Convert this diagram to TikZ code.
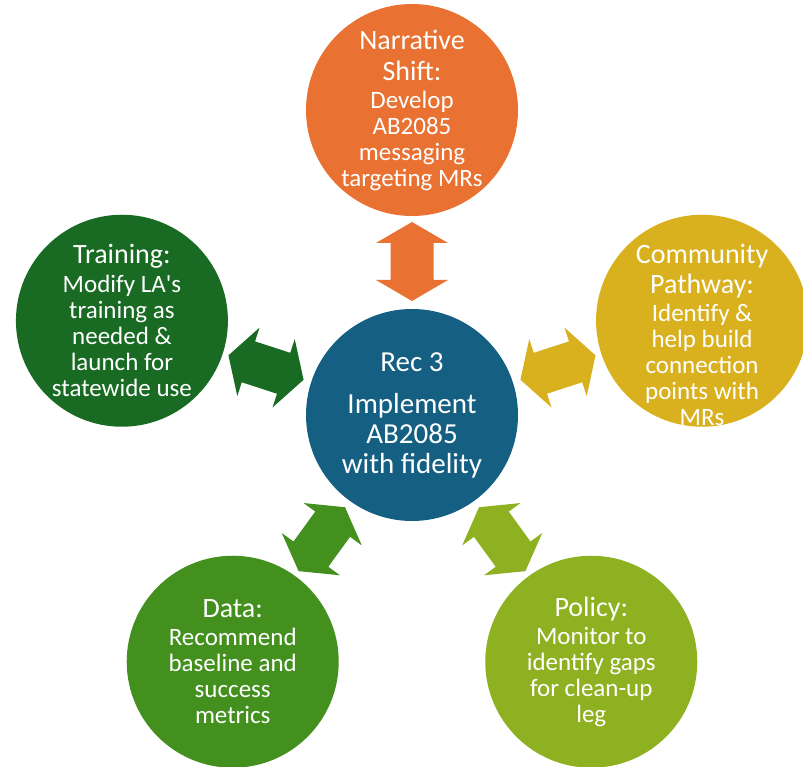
\documentclass[tikz,border=0pt]{standalone}
\usepackage{fontspec}
\setmainfont{Carlito}
\usetikzlibrary{calc}
\definecolor{cBlue}{HTML}{156082}
\definecolor{cOrange}{HTML}{E97132}
\definecolor{cDkGreen}{HTML}{196B24}
\definecolor{cGold}{HTML}{D9B11F}
\definecolor{cGreen}{HTML}{43901F}
\definecolor{cLime}{HTML}{8EB122}
\newcommand{\Tt}{\fontsize{28}{31}\selectfont}
\begin{document}
\begin{tikzpicture}[x=1pt,y=1pt,
  disc/.style={circle, minimum size=212pt, inner sep=0pt, fill=#1},
  lbl/.style={text=white, align=center, inner sep=0pt, font=\fontsize{25}{26}\selectfont},
  clbl/.style={text=white, align=center, inner sep=0pt, font=\fontsize{29}{30}\selectfont},
  dblarrow/.pic={
    \fill[#1] (-39.5,0) -- (-18.5,36) -- (-18.5,21.5) -- (18.5,21.5) -- (18.5,36) -- (39.5,0)
      -- (18.5,-36) -- (18.5,-21.5) -- (-18.5,-21.5) -- (-18.5,-36) -- cycle;
  }
]
\useasboundingbox (0,0) rectangle (803,767);
\coordinate (o) at (412,352);
\node[disc=cBlue] (c) at (o) {};
\node[disc=cOrange] (n) at ($(o)+(90:305)$) {};
\node[disc=cDkGreen] (w) at ($(o)+(162:305)$) {};
\node[disc=cGreen] (sw) at ($(o)+(234:305)$) {};
\node[disc=cLime] (se) at ($(o)+(306:305)$) {};
\node[disc=cGold] (e) at ($(o)+(18:305)$) {};

% arrows
\pic[rotate=90] at ($(o)+(90:153.5)$) {dblarrow=cOrange};
\pic[rotate=162] at ($(o)+(162:153.5)$) {dblarrow=cDkGreen};
\pic[rotate=234] at ($(o)+(234:153.5)$) {dblarrow=cGreen};
\pic[rotate=306] at ($(o)+(306:153.5)$) {dblarrow=cLime};
\pic[rotate=18] at ($(o)+(18:153.5)$) {dblarrow=cGold};

% texts
\node[clbl] (tc) at (c) {Rec 3\\[12pt]Implement\\AB2085\\with fidelity};
\node[lbl] (tn) at (n) {{\Tt Narrative}\\[5pt]{\Tt Shift:}\\[2pt]Develop\\AB2085\\messaging\\targeting MRs};
\node[lbl] (tw) at (w) {{\Tt Training:}\\[3pt]Modify LA\textquotesingle s\\training as\\needed \&\\launch for\\statewide use};
\node[lbl, yshift=-14pt] (te) at (e) {{\Tt Community}\\[4pt]{\Tt Pathway:}\\[2pt]Identify \&\\help build\\connection\\points with\\MRs};
\node[lbl] (tsw) at (sw) {{\Tt Data:}\\[2pt]Recommend\\baseline and\\success\\metrics};
\node[lbl] (tse) at (se) {{\Tt Policy:}\\[2pt]Monitor to\\identify gaps\\for clean-up\\leg};
\end{tikzpicture}
\end{document}
